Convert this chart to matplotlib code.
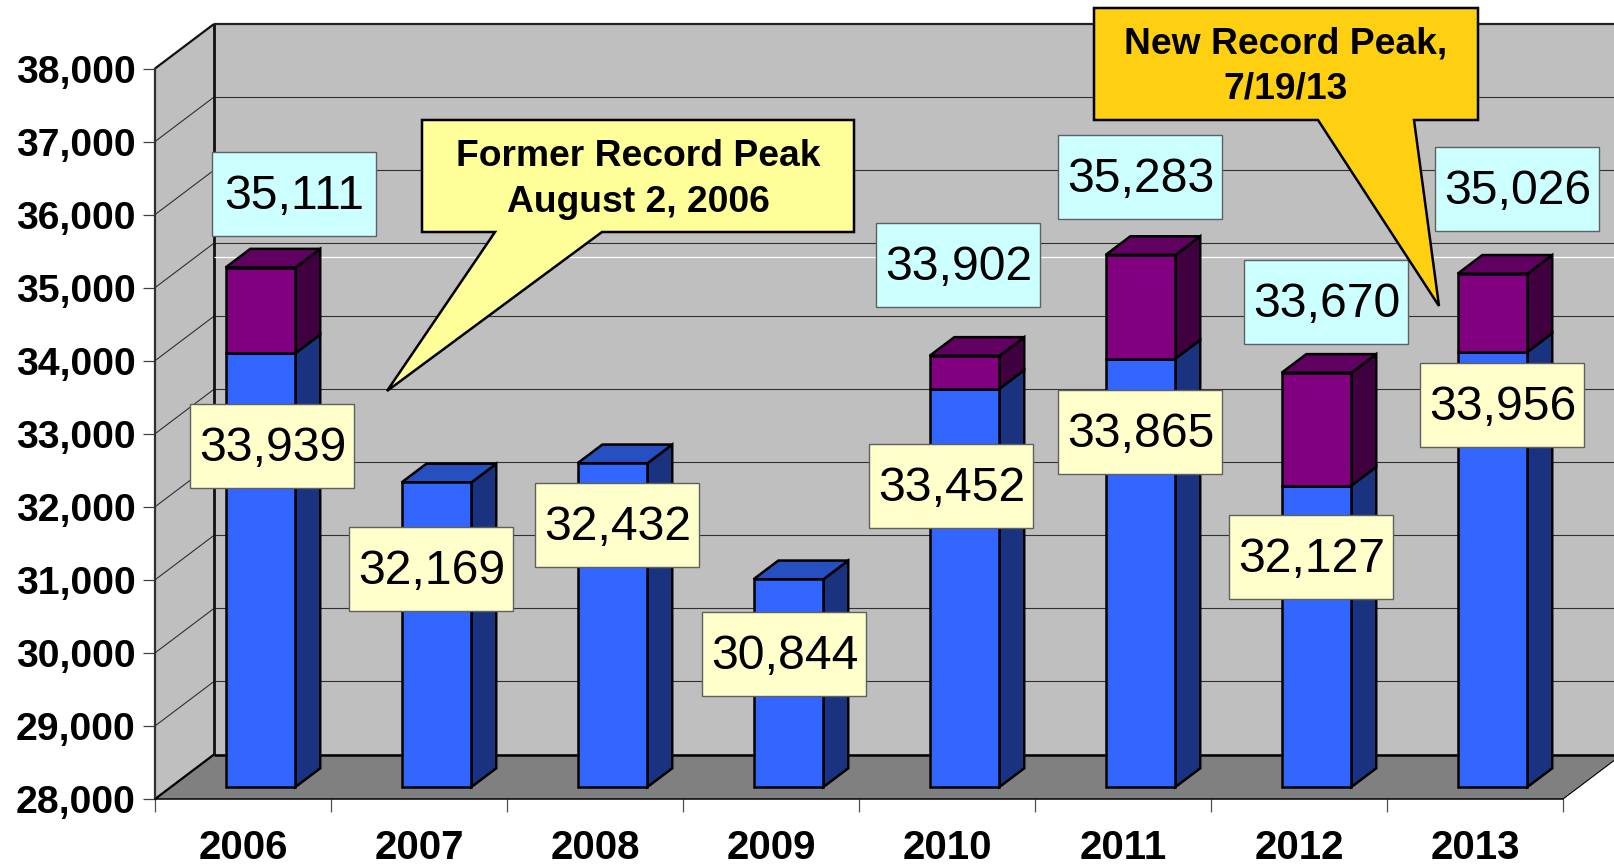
import matplotlib
matplotlib.use("Agg")
import matplotlib.pyplot as plt
from matplotlib.patches import Polygon, Rectangle
from matplotlib.transforms import Affine2D

plt.rcParams['font.family'] = ['Liberation Sans', 'DejaVu Sans']

# ---- data ----
years = [2006, 2007, 2008, 2009, 2010, 2011, 2012, 2013]
lower_peak = [33939, 32169, 32432, 30844, 33452, 33865, 32127, 33956]
upper_peak = [35111, None, None, None, 33902, 35283, 33670, 35026]
y_ticks = [28000, 29000, 30000, 31000, 32000, 33000, 34000, 35000, 36000, 37000, 38000]
record_line_value = 34817

# ---- layout ----
W, H = 1614, 866
DPI = 100
L, R, T, B = 155, 1563, 68.5, 799
DEPTH_X = 59 / 176      # wall depth in category units
DEPTH_Y = 609           # wall depth in value units
D0, D1 = 0.27, 0.69     # bar front / rear depth fractions
BAR_W = 0.397
BAR_SHIFT = 0.009

lower_label_box = [(190, 404), (349, 527), (535, 483), (702, 612),
                   (869, 444), (1058, 390), (1229, 515), (1420, 363)]
upper_label_box = [(212, 152), None, None, None,
                   (876, 223), (1058, 135), (1244, 260), (1435, 147)]
BOX_W, BOX_H = 164, 83.5

fig = plt.figure(figsize=(W / DPI, H / DPI), dpi=DPI, facecolor='white')
ax = fig.add_axes([L / W, 1 - B / H, (R - L) / W, (B - T) / H])
ax.set_facecolor('none')
ax.set_xlim(0, len(years))
ax.set_ylim(y_ticks[0], y_ticks[-1])
px = Affine2D().scale(1 / W, -1 / H).translate(0, 1) + fig.transFigure


def proj(x, v, d):
    return (x + d * DEPTH_X, v + d * DEPTH_Y)


def poly(pts, fc, ec='black', lw=1.8, z=1):
    ax.add_patch(Polygon(pts, closed=True, facecolor=fc, edgecolor=ec, linewidth=lw,
                         joinstyle='miter', clip_on=False, zorder=z))


def seg(p, q, color='#303030', lw=1.0, z=2):
    ax.plot([p[0], q[0]], [p[1], q[1]], color=color, lw=lw, clip_on=False, zorder=z,
            solid_capstyle='butt')


n = len(years)
vmin, vmax = y_ticks[0], y_ticks[-1]

# walls and floor
WALL = '#BFBFBF'
poly([proj(0, vmin, 1), proj(n, vmin, 1), proj(n, vmax, 1), proj(0, vmax, 1)], WALL, ec='none', z=1)
poly([proj(0, vmin, 0), proj(0, vmin, 1), proj(0, vmax, 1), proj(0, vmax, 0)], WALL, ec='none', z=1)
poly([proj(0, vmin, 0), proj(n, vmin, 0), proj(n, vmin, 1), proj(0, vmin, 1)], '#808080', ec='none', z=1)

for v in y_ticks[1:-1]:
    seg(proj(0, v, 0), proj(0, v, 1), lw=0.8)
    seg(proj(0, v, 1), proj(n, v, 1), lw=0.8)
seg(proj(0, record_line_value, 1), proj(n, record_line_value, 1), color='white', lw=0.9, z=2.5)

seg(proj(0, vmax, 0), proj(0, vmax, 1), color='#111111', lw=1.6)
seg(proj(0, vmax, 1), proj(n, vmax, 1), color='#222222', lw=1.6)
seg(proj(0, vmin, 1), proj(0, vmax, 1), color='#111111', lw=2.0)
seg(proj(0, vmin, 0), proj(0, vmin, 1), color='black', lw=1.6)
seg(proj(0, vmin, 1), proj(n, vmin, 1), color='black', lw=1.8)
seg(proj(n, vmin, 0), proj(n, vmin, 1), color='black', lw=0.8)


def bar_segment(x, v0, v1, front, side, top, with_top):
    x0 = x + D0 * DEPTH_X + BAR_SHIFT + 0.5 - BAR_W / 2
    x1 = x0 + BAR_W
    dv = D0 * DEPTH_Y
    ddx, ddv = (D1 - D0) * DEPTH_X, (D1 - D0) * DEPTH_Y
    poly([(x1, v0 + dv), (x1 + ddx, v0 + dv + ddv), (x1 + ddx, v1 + dv + ddv), (x1, v1 + dv)], side, z=3)
    if with_top:
        poly([(x0, v1 + dv), (x1, v1 + dv), (x1 + ddx, v1 + dv + ddv), (x0 + ddx, v1 + dv + ddv)], top, z=3)
    ax.bar(x0, v1 - v0, width=BAR_W, bottom=v0 + dv, align='edge', color=front,
           edgecolor='black', linewidth=1.8, clip_on=False, zorder=3.2)


for i, (lo, up) in enumerate(zip(lower_peak, upper_peak)):
    bar_segment(i, vmin, lo, '#3366FF', '#193380', '#264FC0', up is None)
    if up is not None:
        bar_segment(i, lo, up, '#800080', '#400040', '#600060', True)

# axes furniture
for s in ('top', 'right'):
    ax.spines[s].set_visible(False)
ax.spines['left'].set_color('#303030')
ax.spines['left'].set_linewidth(1.6)
ax.spines['bottom'].set_color('black')
ax.spines['bottom'].set_linewidth(1.1)
for s in ax.spines.values():
    s.set_zorder(2.8)
ax.set_yticks(y_ticks, labels=[f"{v:,}" for v in y_ticks])
ax.set_xticks(range(n + 1), labels=[])
ax.set_xticks([i + 0.5 for i in range(n)], labels=[str(y) for y in years], minor=True)
ax.tick_params(axis='y', length=8.6, width=0.9, color='#404040', pad=5.5, labelsize=28.2)
ax.tick_params(axis='x', which='major', length=9, width=0.9, color='#505050')
ax.tick_params(axis='x', which='minor', length=0, pad=21.5, labelsize=29)
for t in ax.get_yticklabels() + ax.get_xticklabels(minor=True):
    t.set_fontweight('bold')


# value labels
def value_label(val, box, fc):
    x, y = box
    fig.add_artist(Rectangle((x, y), BOX_W, BOX_H, transform=px, facecolor=fc,
                             edgecolor='#606060', linewidth=1.0, zorder=5))
    fig.text(0, 0, f"{val:,}", transform=Affine2D().translate(x + BOX_W / 2 + 0.5, y + BOX_H / 2 + 3) + px,
             ha='center', va='center', fontsize=34.7, color='black', zorder=6)


for val, box in zip(lower_peak, lower_label_box):
    value_label(val, box, '#FFFFCC')
for val, box in zip(upper_peak, upper_label_box):
    if val is not None:
        value_label(val, box, '#CCFFFF')


# callouts
def callout(x0, y0, x1, y1, t0, tip, t1, fc, lines, ys):
    pts = [(x0, y0), (x1, y0), (x1, y1), (t1, y1), tip, (t0, y1), (x0, y1)]
    fig.add_artist(Polygon(pts, closed=True, transform=px, facecolor=fc, edgecolor='black',
                           linewidth=1.8, joinstyle='miter', zorder=7))
    for s, y in zip(lines, ys):
        fig.text(0, 0, s, transform=Affine2D().translate((x0 + x1) / 2, y) + px, ha='center',
                 va='center', fontsize=26.8, fontweight='bold', color='black', zorder=8)


callout(422, 120, 854, 232, 495, (387, 391), 602, '#FFFF99',
        ['Former Record Peak', 'August 2, 2006'], [157, 202])
callout(1094, 8, 1478, 120, 1318, (1439, 306), 1414, '#FFD012',
        ['New Record Peak,', '7/19/13'], [44, 89])

fig.savefig('out.png', dpi=DPI)
